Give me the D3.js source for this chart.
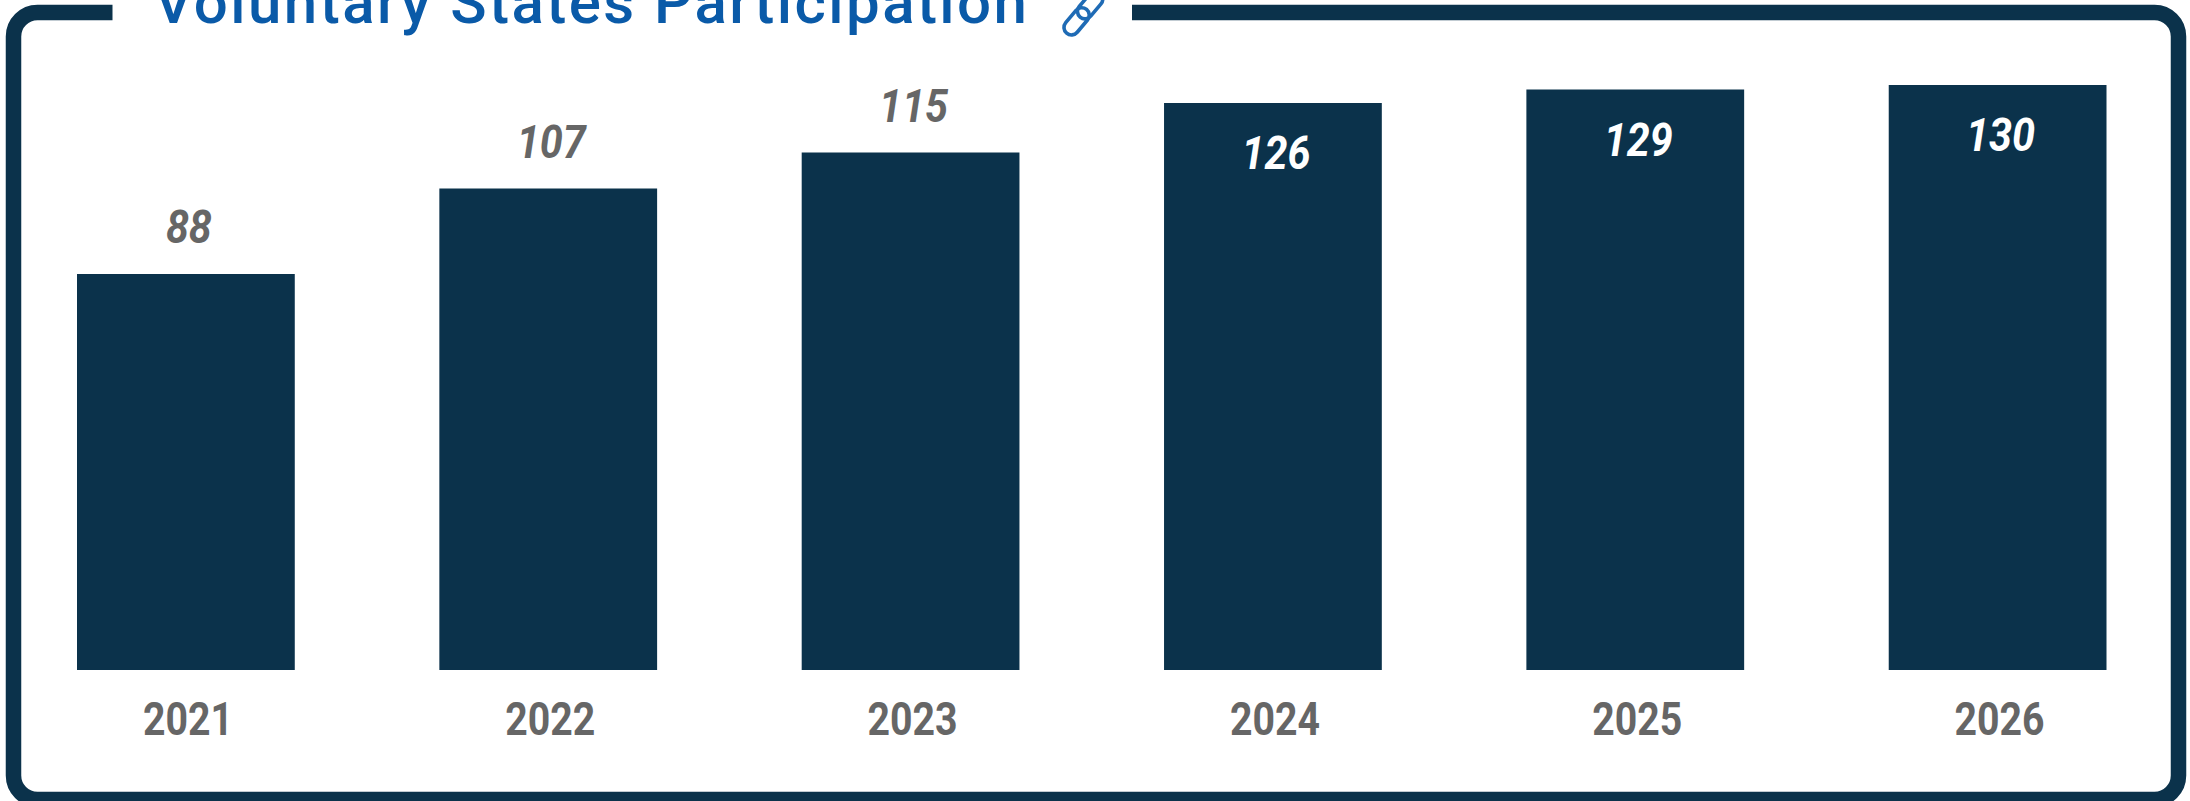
<!DOCTYPE html>
<html>
<head>
<meta charset="utf-8">
<style>
html,body{margin:0;padding:0;background:#fff;overflow:hidden}
svg{display:block}
text{font-family:Roboto,"Liberation Sans",sans-serif}
</style>
<script src="https://cdn.jsdelivr.net/npm/d3@7"></script>
</head>
<body>
<svg id="chart" width="2190" height="801"></svg>
<script>
const years = ["2021","2022","2023","2024","2025","2026"];
const states = [88,107,115,126,129,130];
const titleText = "Voluntary States Participation";

const navy = "#0b324b", grey = "#666666", blue = "#0a5aa8";
const svg = d3.select("#chart");

// Rounded frame, with a gap in its top edge for the heading
svg.append("rect")
  .attr("x",13.5).attr("y",12.5).attr("width",2165).attr("height",787)
  .attr("rx",24).attr("ry",24)
  .attr("fill","#fff").attr("stroke",navy).attr("stroke-width",15.5);
svg.append("rect").attr("x",112.5).attr("y",0).attr("width",1019.5).attr("height",24).attr("fill","#fff");

const x = d3.scaleBand().domain(years).range([77,2106.5]).paddingInner(0.399).paddingOuter(0);
const y = d3.scaleLinear().domain([0,130]).range([670,85]);

svg.append("g").selectAll("rect").data(years).join("rect")
  .attr("x",d=>x(d)).attr("width",x.bandwidth())
  .attr("y",(d,i)=>y(states[i])).attr("height",(d,i)=>y(0)-y(states[i]))
  .attr("fill",navy);

// Year labels along the baseline
const axis = d3.axisBottom(x).tickSize(0).tickPadding(0);
const axisG = svg.append("g").attr("transform","translate(2,670)").call(axis);
axisG.select(".domain").remove();
axisG.selectAll("text")
  .attr("y",65).attr("dy",0)
  .attr("font-size",46).attr("font-weight",700)
  .attr("fill",grey).attr("font-family","Roboto")
  .attr("textLength",90).attr("lengthAdjust","spacingAndGlyphs");

// Value labels sit above short bars and inside the tall ones
const insideFrom = 120;
svg.append("g").selectAll("text").data(years).join("text")
  .attr("x",d=>x(d)+x.bandwidth()/2+3)
  .attr("y",(d,i)=>y(states[i])+(states[i]>=insideFrom?66:-31))
  .attr("text-anchor","middle")
  .attr("font-size",46).attr("font-weight",700).attr("font-style","italic")
  .attr("fill",(d,i)=>states[i]>=insideFrom?"#fff":grey)
  .attr("textLength",(d,i)=>String(states[i]).length*23)
  .attr("lengthAdjust","spacingAndGlyphs")
  .text((d,i)=>states[i]);

svg.append("text")
  .attr("x",154).attr("y",23)
  .attr("font-size",60).attr("font-weight",500).attr("fill",blue)
  .attr("textLength",873).attr("lengthAdjust","spacing")
  .text(titleText);

// Chain-link glyph beside the heading
const link = svg.append("g").attr("transform","translate(1084,12.5) rotate(-50)")
  .attr("fill","none").attr("stroke","#1f6bb5").attr("stroke-width",3.6);
link.append("rect").attr("x",-27).attr("y",-7.5).attr("width",31).attr("height",15).attr("rx",7.5);
link.append("rect").attr("x",-6).attr("y",-7.5).attr("width",31).attr("height",15).attr("rx",7.5);
</script>
</body>
</html>
